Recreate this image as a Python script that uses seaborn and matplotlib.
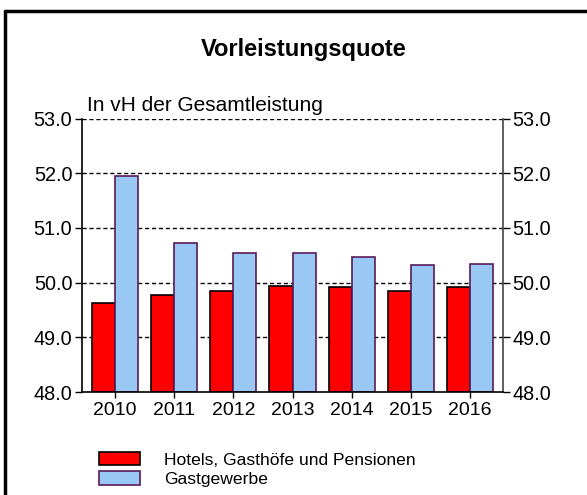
import matplotlib
matplotlib.use("Agg")
import matplotlib.pyplot as plt
import seaborn as sns
import pandas as pd
from matplotlib.patches import Patch
from matplotlib.lines import Line2D

years = ["2010", "2011", "2012", "2013", "2014", "2015", "2016"]
hotels = [49.63, 49.78, 49.85, 49.94, 49.92, 49.85, 49.92]
gastgewerbe = [51.94, 50.72, 50.54, 50.54, 50.46, 50.33, 50.34]
series_names = ["Hotels, Gasthöfe und Pensionen", "Gastgewerbe"]
y_ticks = [48.0, 49.0, 50.0, 51.0, 52.0, 53.0]
y_base = 48.0

colors = ["#ff0000", "#99c8f5"]
edges = ["#000000", "#5a1a5a"]

df = pd.DataFrame({
    "Jahr": years * 2,
    "Wert": hotels + gastgewerbe,
    "Reihe": [series_names[0]] * len(years) + [series_names[1]] * len(years),
})

sns.set_style("white")
plt.rcParams["font.family"] = ["Liberation Sans", "DejaVu Sans"]
plt.rcParams["text.color"] = "black"
plt.rcParams["xtick.color"] = "black"
plt.rcParams["ytick.color"] = "black"

W, H = 587, 495
fig = plt.figure(figsize=(W / 100, H / 100), dpi=100)
ax = fig.add_axes([82 / W, 1 - 392 / H, (503 - 82) / W, (392 - 118.5) / H])

sns.barplot(data=df, x="Jahr", y="Wert", hue="Reihe", palette=colors,
            width=0.78, ax=ax, legend=False, saturation=1)
for cont, ec in zip(ax.containers, edges):
    for p in cont:
        h = p.get_height()
        p.set_y(y_base)
        p.set_height(h - y_base)
        p.set_edgecolor(ec)
        p.set_linewidth(1.2)

ax.set_ylim(48.0, 53.0)
ax.set_xlim(-0.56, 6.56)
ax.set_yticks(y_ticks)
ax.set_yticklabels([f"{v:.1f}" for v in y_ticks])
ax.set_xlabel("")
ax.set_ylabel("")
for v in y_ticks[1:]:
    ax.axhline(v, color="black", lw=1.0, ls=(0, (3, 2)), zorder=0.5)

ax.spines["top"].set_visible(False)
ax.spines["left"].set_color("black")
ax.spines["left"].set_linewidth(1.2)
ax.spines["bottom"].set_color("black")
ax.spines["bottom"].set_linewidth(1.2)
ax.spines["right"].set_color("#444444")
ax.spines["right"].set_linewidth(1.2)

ax.tick_params(axis="y", which="both", left=True, right=True, labelleft=True,
               labelright=True, direction="out", length=5, width=1,
               labelsize=14.3, pad=2, colors="black")
ax.tick_params(axis="x", bottom=True, direction="out", length=4, width=1,
               labelsize=14, pad=3, colors="black")

fig.text(304 / W, 1 - 56 / H, "Vorleistungsquote", ha="center", va="baseline",
         fontsize=17, fontweight="bold")
fig.text(87 / W, 1 - 111 / H, "In vH der Gesamtleistung", ha="left",
         va="baseline", fontsize=15)

# frame (top and left visible)
fig.add_artist(Line2D([5 / W, 1.0], [1 - 11.3 / H, 1 - 11.3 / H], color="black",
                      lw=2.5, transform=fig.transFigure))
fig.add_artist(Line2D([5 / W, 5 / W], [1 - 11.3 / H, 0.0], color="black",
                      lw=2.5, transform=fig.transFigure))

handles = [Patch(facecolor=c, edgecolor=e, lw=1.2) for c, e in zip(colors, edges)]
fig.legend(handles, series_names, loc="upper left",
           bbox_to_anchor=(99 / W, 1 - 452 / H), frameon=False,
           fontsize=12.6, handlelength=2.35, handleheight=0.8,
           handletextpad=1.37, labelspacing=0.2, borderpad=0, borderaxespad=0)

fig.savefig("out.png", dpi=100)
